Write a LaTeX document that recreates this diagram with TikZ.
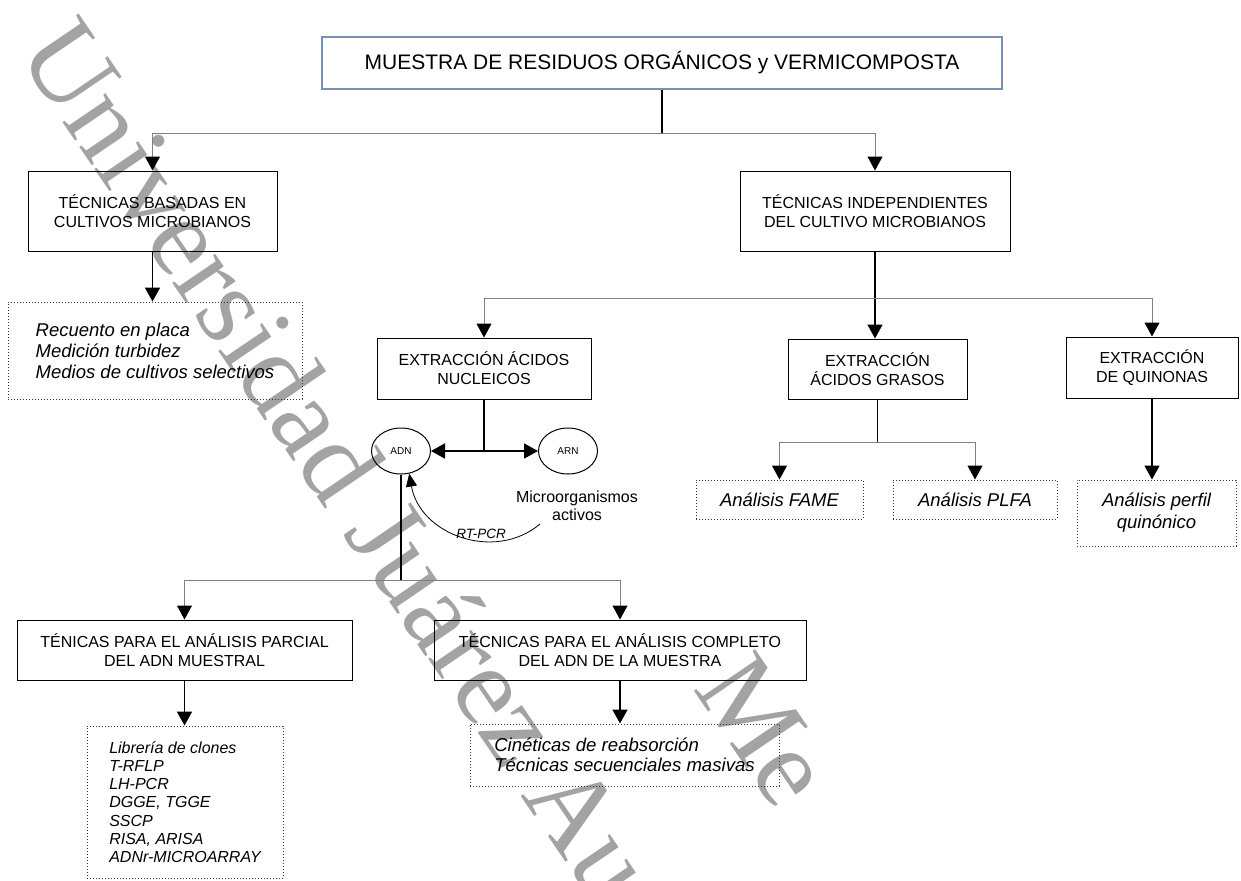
\documentclass[tikz,border=0pt]{standalone}
\usepackage{fontspec}
\setmainfont{Liberation Sans}
\newfontfamily\marcafont{Liberation Serif}
\usetikzlibrary{arrows.meta,shapes.geometric}

\begin{document}
\begin{tikzpicture}
    % styles: boxes, dotted lists, ellipses, lines
    [x=1pt, y=-1pt,
    TopNode/.style={rectangle, draw={rgb,255:red,120;green,146;blue,182}, line width=1.2pt, minimum width=680pt, minimum height=52pt, inner sep=0pt, font=\fontsize{21}{24}\selectfont},
    BoxNode/.style={rectangle, draw=black, line width=1pt, inner sep=0pt, align=center, font=\fontsize{16}{19}\selectfont},
    ListNode/.style={rectangle, draw=black!80, dotted, line width=1pt, inner sep=0pt, align=left, font=\fontsize{18.5}{21}\selectfont\itshape},
    AcidNode/.style={ellipse, draw=black, line width=1pt, inner sep=0pt, minimum width=59pt, minimum height=46pt, font=\fontsize{10}{12}\selectfont},
    MainLine/.style={draw=black, line width=1.7pt, -{Triangle[width=15pt,length=14pt]}},
    SubLine/.style={draw=black!50, line width=1pt, -{Triangle[width=15pt,length=14pt,color=black]}},
    Marca/.style={text=black!36, font=\marcafont\fontsize{113}{120}\selectfont, inner sep=0pt}]

    \useasboundingbox (0,0) rectangle (1241,880);

    % watermark behind the chart
    \begin{scope}
    \clip (0,0) rectangle (1241,880);
    \node[Marca, anchor=base west, rotate=-55.8] (marca1) at (16,53) {Universidad Juárez Autónoma};
    \node[Marca, anchor=base west, rotate=-55.8] (marca2) at (692,688) {Me};
    \end{scope}

    % top sample box
    \node[TopNode] (muestra) at (662,63) {MUESTRA DE RESIDUOS ORGÁNICOS y VERMICOMPOSTA};

    % first level
    \node[BoxNode, minimum width=249pt, minimum height=80pt] (basadas) at (152.5,211) {TÉCNICAS BASADAS EN\\CULTIVOS MICROBIANOS};
    \node[BoxNode, minimum width=270pt, minimum height=80pt] (indep) at (875,211) {TÉCNICAS INDEPENDIENTES\\DEL CULTIVO MICROBIANOS};
    \node[ListNode, minimum width=294pt, minimum height=97pt] (cultivos) at (155,350.5) {Recuento en placa\\Medición turbidez\\Medios de cultivos selectivos};

    % extractions
    \node[BoxNode, minimum width=214pt, minimum height=61pt] (nucleicos) at (484,368.5) {EXTRACCIÓN ÁCIDOS\\NUCLEICOS};
    \node[BoxNode, minimum width=179pt, minimum height=60pt] (grasos) at (877.5,369) {EXTRACCIÓN\\ÁCIDOS GRASOS};
    \node[BoxNode, minimum width=172pt, minimum height=61pt] (quinonas) at (1152,367.5) {EXTRACCIÓN\\DE QUINONAS};
    \node[ListNode, minimum width=167pt, minimum height=39pt] (fame) at (779.5,499.5) {Análisis FAME};
    \node[ListNode, minimum width=164pt, minimum height=39pt] (plfa) at (975,499.5) {Análisis PLFA};
    \node[ListNode, align=center, minimum width=159pt, minimum height=66pt, font=\fontsize{18.5}{22}\selectfont\itshape] (quinonico) at (1156.5,513) {Análisis perfil\\quinónico};

    % nucleic acids
    \node[AcidNode] (adn) at (401,451) {ADN};
    \node[AcidNode] (arn) at (568,451) {ARN};
    \node[align=center, font=\fontsize{16}{18}\selectfont] (micro) at (577,506) {Microorganismos\\activos};
    \node[font=\fontsize{13.5}{16}\selectfont\itshape] (rtpcr) at (481,534) {RT-PCR};

    % DNA analysis
    \node[BoxNode, minimum width=335pt, minimum height=60pt] (parcial) at (184.5,650) {TÉNICAS PARA EL ANÁLISIS PARCIAL\\DEL ADN MUESTRAL};
    \node[BoxNode, minimum width=372pt, minimum height=60pt] (completo) at (620,650) {TÉCNICAS PARA EL ANÁLISIS COMPLETO\\DEL ADN DE LA MUESTRA};
    \node[ListNode, minimum width=196pt, minimum height=152pt, font=\fontsize{16}{18.2}\selectfont\itshape] (clones) at (185,802) {Librería de clones\\T-RFLP\\LH-PCR\\DGGE, TGGE\\SSCP\\RISA, ARISA\\ADNr-MICROARRAY};
    \node[ListNode, minimum width=309pt, minimum height=62pt, font=\fontsize{18.6}{20}\selectfont\itshape] (cineticas) at (624.5,755) {Cinéticas de reabsorción\\Técnicas secuenciales masivas};

    % branch points
    \coordinate (j1) at (662,133);
    \coordinate (j2) at (875,298);
    \coordinate (j3) at (877.5,442);
    \coordinate (j4) at (484,451);
    \coordinate (j5) at (401,580);
    \coordinate (rtfrom) at (540,524);

    % connectors
    \draw[MainLine, -, line width=1.3pt] (muestra) -- (j1);
    \foreach \t in {basadas, indep}
        \draw[SubLine] (j1) -| (\t);
    \draw[MainLine] (basadas) -- (basadas.south |- cultivos.north);
    \draw[MainLine] (indep) -- (indep.south |- grasos.north);
    \foreach \t in {nucleicos, quinonas}
        \draw[SubLine] (j2) -| (\t);
    \draw[MainLine, -] (grasos) -- (j3);
    \foreach \t in {fame, plfa}
        \draw[SubLine] (j3) -| (\t);
    \draw[MainLine] (quinonas) -- (quinonas.south |- quinonico.north);
    \draw[MainLine, -] (nucleicos) -- (j4);
    \foreach \t in {adn, arn}
        \draw[MainLine] (j4) -- (\t);
    \draw[MainLine, -] (adn) -- (j5);
    \foreach \t in {parcial, completo}
        \draw[SubLine] (j5) -| (\t);
    \draw[MainLine] (parcial) -- (parcial.south |- clones.north);
    \draw[MainLine] (completo) -- (completo.south |- cineticas.north);
    \draw[line width=0.8pt, -{Triangle[width=11pt,length=13pt]}] (rtfrom) .. controls (495,562) and (420,535) .. (adn.-70);

\end{tikzpicture}
\end{document}
